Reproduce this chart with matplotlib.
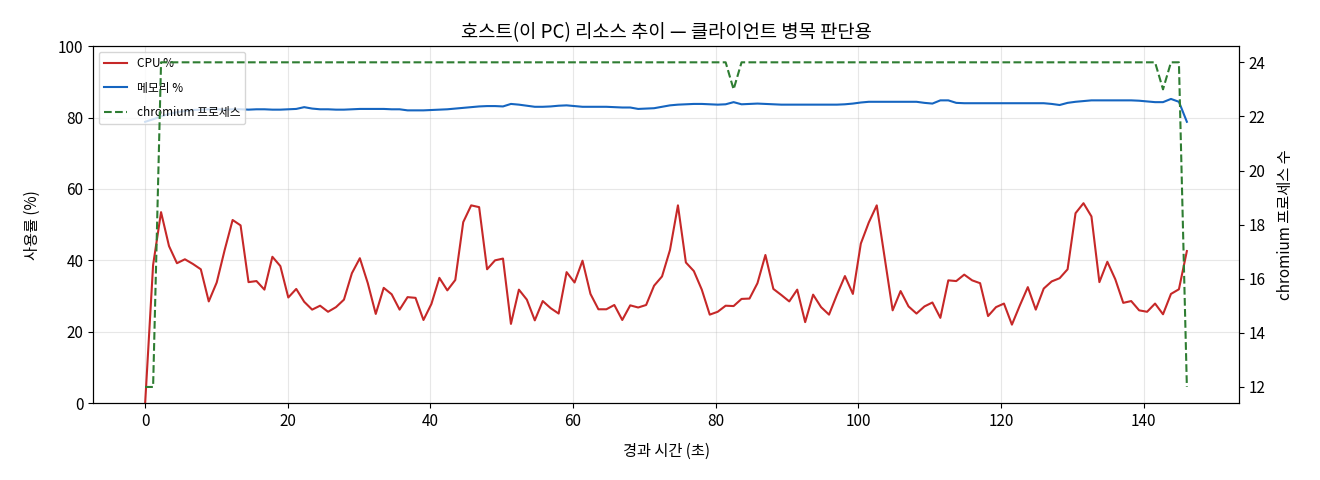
import numpy as np
import matplotlib
matplotlib.use("Agg")
import matplotlib.pyplot as plt

plt.rcParams['font.family'] = ['Noto Sans CJK KR', 'DejaVu Sans']
plt.rcParams['axes.unicode_minus'] = False

# sampled about every 1.115 s
sample_interval = 1.115

cpu = [0.0, 38.7, 53.5, 44.0, 39.2, 40.3, 39.0, 37.5, 28.5, 33.8,
       42.9, 51.3, 49.8, 33.9, 34.2, 31.8, 41.0, 38.4, 29.6, 32.0,
       28.4, 26.2, 27.3, 25.6, 26.9, 29.0, 36.4, 40.6, 33.6, 25.0,
       32.3, 30.5, 26.2, 29.7, 29.5, 23.3, 27.8, 35.1, 31.6, 34.5,
       50.7, 55.4, 54.9, 37.5, 40.0, 40.5, 22.2, 31.8, 29.0, 23.2,
       28.6, 26.6, 25.1, 36.7, 33.8, 39.9, 30.6, 26.3, 26.3, 27.5,
       23.3, 27.4, 26.8, 27.5, 32.9, 35.5, 42.9, 55.4, 39.4, 37.0,
       31.8, 24.8, 25.6, 27.3, 27.2, 29.2, 29.3, 33.6, 41.5, 32.0,
       30.3, 28.5, 31.8, 22.7, 30.4, 26.9, 24.8, 30.4, 35.6, 30.6,
       44.7, 50.6, 55.4, 40.6, 26.0, 31.4, 27.1, 25.1, 27.1, 28.2,
       23.9, 34.4, 34.2, 36.0, 34.4, 33.6, 24.4, 26.9, 27.9, 22.0,
       27.4, 32.5, 26.2, 32.1, 34.1, 35.0, 37.5, 53.2, 56.0, 52.3,
       33.9, 39.6, 34.7, 28.1, 28.6, 26.0, 25.6, 27.9, 24.9, 30.6,
       31.9, 42.6]

memory = [78.8, 79.5, 80.3, 81.0, 81.5, 81.8, 82.1, 82.2, 82.3, 82.3,
          82.2, 82.3, 82.3, 82.2, 82.3, 82.3, 82.2, 82.2, 82.3, 82.4,
          82.9, 82.5, 82.3, 82.3, 82.2, 82.2, 82.3, 82.4, 82.4, 82.4,
          82.4, 82.3, 82.3, 82.0, 82.0, 82.0, 82.1, 82.2, 82.3, 82.5,
          82.7, 82.9, 83.1, 83.2, 83.2, 83.1, 83.8, 83.6, 83.3, 83.0,
          83.0, 83.1, 83.3, 83.4, 83.2, 83.0, 83.0, 83.0, 83.0, 82.9,
          82.8, 82.8, 82.4, 82.5, 82.6, 83.0, 83.4, 83.6, 83.7, 83.8,
          83.8, 83.7, 83.6, 83.7, 84.3, 83.7, 83.8, 83.9, 83.8, 83.7,
          83.6, 83.6, 83.6, 83.6, 83.6, 83.6, 83.6, 83.6, 83.7, 83.9,
          84.2, 84.4, 84.4, 84.4, 84.4, 84.4, 84.4, 84.4, 84.1, 83.9,
          84.8, 84.8, 84.1, 84.0, 84.0, 84.0, 84.0, 84.0, 84.0, 84.0,
          84.0, 84.0, 84.0, 84.0, 83.8, 83.5, 84.1, 84.4, 84.6, 84.8,
          84.8, 84.8, 84.8, 84.8, 84.8, 84.7, 84.5, 84.3, 84.3, 85.2,
          84.4, 78.8]

chromium = [12, 12] + [24] * 72 + [23] + [24] * 53 + [23, 24, 24, 12]

elapsed = np.arange(len(cpu)) * sample_interval

fig, ax = plt.subplots(figsize=(13.2, 4.8), dpi=100)
fig.subplots_adjust(left=0.0705, right=0.9386, top=0.904, bottom=0.160)

l1, = ax.plot(elapsed, cpu, color="#c62828", lw=1.5, label="CPU %")
l2, = ax.plot(elapsed, memory, color="#1565c0", lw=1.5, label="메모리 %")
ax.set_ylim(0, 100)
ax.set_xlabel("경과 시간 (초)", fontsize=11, labelpad=9)
ax.set_ylabel("사용률 (%)", fontsize=11, labelpad=12)
ax.tick_params(labelsize=11)
ax.grid(True, alpha=0.3)

ax2 = ax.twinx()
l3, = ax2.plot(elapsed, chromium, color="#2e7d32", lw=1.5, ls="--", label="chromium 프로세스")
ax2.set_ylabel("chromium 프로세스 수", fontsize=11, labelpad=8)
ax2.tick_params(labelsize=11)

ax.legend(handles=[l1, l2, l3], loc="upper left", fontsize=8.5, labelspacing=1.0)
ax.set_title("호스트(이 PC) 리소스 추이 — 클라이언트 병목 판단용", fontsize=13.5)

fig.savefig("out.png", dpi=100)
